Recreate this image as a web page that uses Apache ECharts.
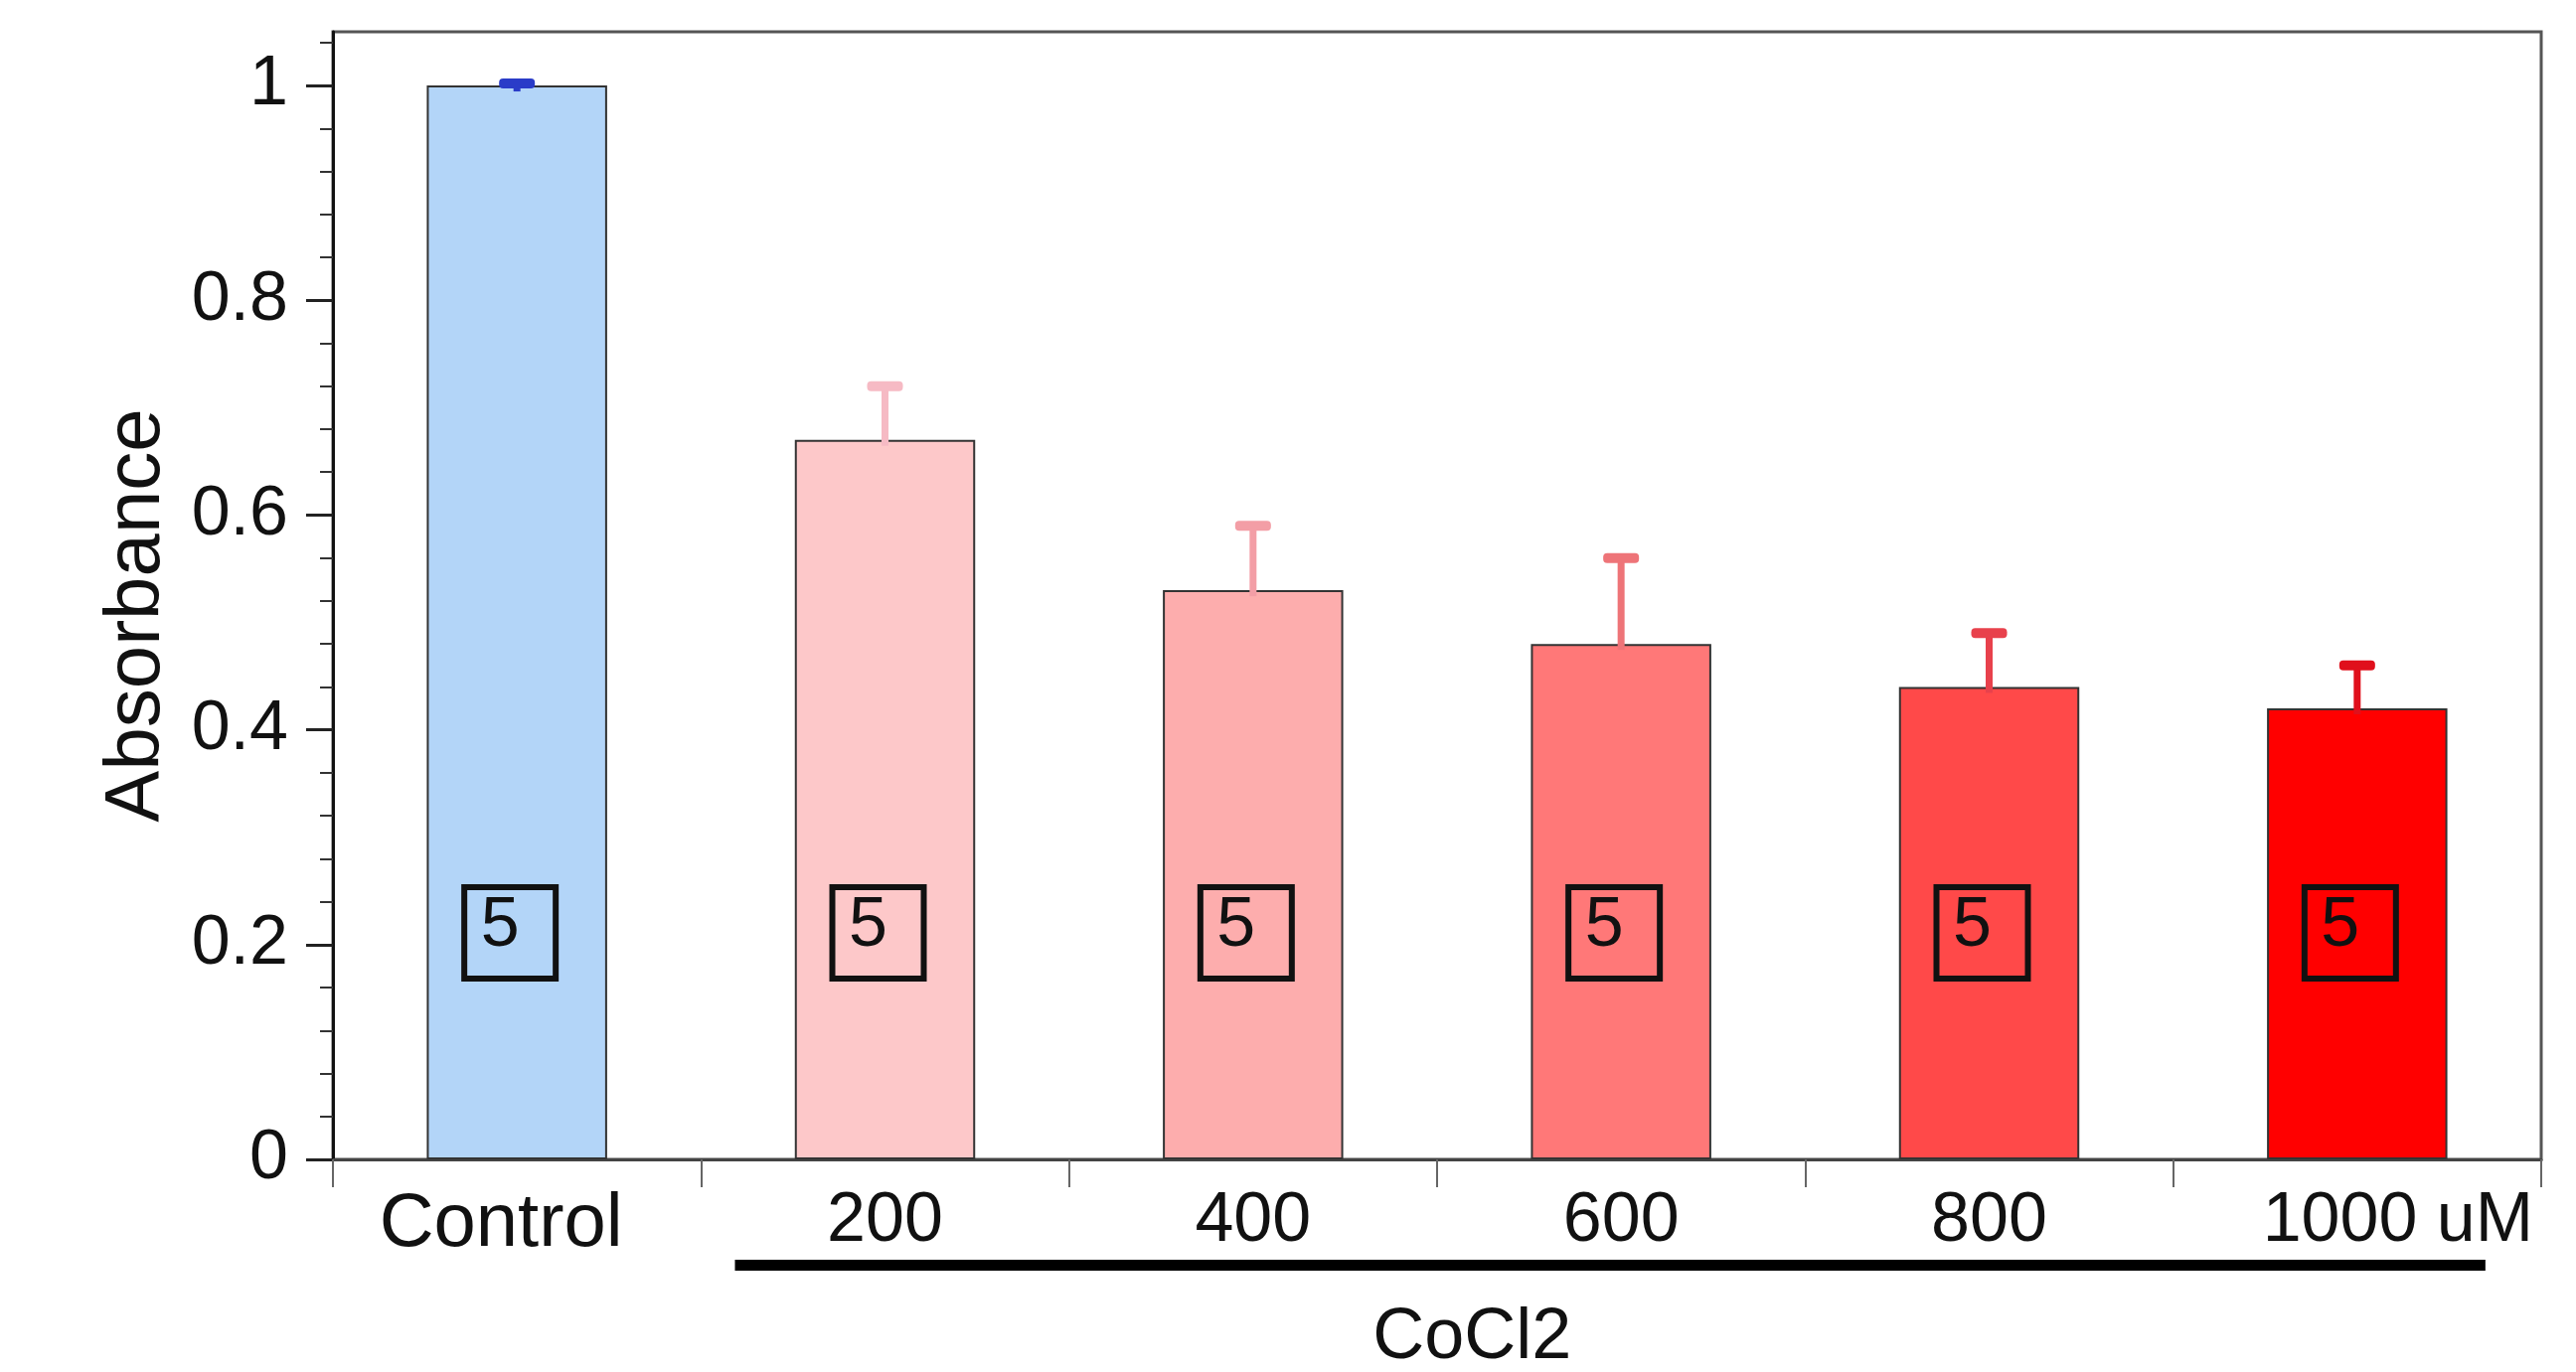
<!DOCTYPE html>
<html><head><meta charset="utf-8">
<script src="https://cdn.jsdelivr.net/npm/echarts@6/dist/echarts.min.js"></script>
<style>html,body{margin:0;padding:0;background:#fff}#c{width:2592px;height:1381px}</style>
</head><body><div id="c"></div>
<script>
// ---- data ----
const categories = ['Control', '200', '400', '600', '800', '1000 uM'];
const absorbance = [1.00, 0.67, 0.53, 0.48, 0.44, 0.42];
const errorUp    = [0.002, 0.05, 0.06, 0.08, 0.05, 0.04];
const nPerGroup  = [5, 5, 5, 5, 5, 5];
const yTickValues = [0, 0.2, 0.4, 0.6, 0.8, 1];
const groupLabel = 'CoCl2';
const yTitle = 'Absorbance';

// ---- styles ----
const barColors = ['#b3d5f8', '#fdc8c9', '#fdadad', '#ff7878', '#ff4949', '#ff0000'];
const errColors = ['#2a3cc8', '#f6bac4', '#f39ea6', '#ee7478', '#e8414c', '#e0101c'];
const FONT = '"Liberation Sans", Arial, sans-serif';

const chart = echarts.init(document.getElementById('c'), null, {renderer: 'canvas'});

const option = {
  backgroundColor: '#ffffff',
  animation: false,
  grid: {left: 335, top: 32, right: 35, bottom: 214, show: true,
         borderColor: '#555', borderWidth: 3, backgroundColor: 'transparent'},
  xAxis: {
    type: 'category', data: categories, boundaryGap: true,
    axisLine: {lineStyle: {color: '#444', width: 3}},
    axisTick: {show: true, interval: 0, length: 28, lineStyle: {color: '#666', width: 2}},
    axisLabel: {
      interval: 0, fontSize: 70, color: '#111', fontFamily: FONT, margin: 28,
      formatter: v => v === '1000 uM' ? '{r|' + v + '}' : v === 'Control' ? '{l|' + v + '}' : v,
      rich: {
        r: {fontSize: 70, color: '#111', fontFamily: FONT, padding: [0, 0, 0, 82]},
        l: {fontSize: 76, color: '#111', fontFamily: FONT, padding: [0, 32, 0, 0]}
      }
    }
  },
  yAxis: {
    type: 'value', min: 0, max: 1.05, interval: 0.2,
    name: yTitle, nameLocation: 'middle', nameGap: 158,
    nameTextStyle: {fontSize: 78, color: '#111', fontFamily: FONT, padding: [0, 40, 0, 0]},
    axisLine: {show: true, lineStyle: {color: '#111', width: 3}},
    axisTick: {show: true, length: 27, customValues: yTickValues, lineStyle: {color: '#222', width: 3}},
    minorTick: {show: true, splitNumber: 5, length: 13, lineStyle: {color: '#333', width: 2}},
    axisLabel: {customValues: yTickValues, fontSize: 70, color: '#111', fontFamily: FONT, margin: 45,
                formatter: v => (v === 0 ? '0' : v === 1 ? '1' : v.toFixed(1))},
    splitLine: {show: false}
  },
  series: [
    {
      type: 'bar', barWidth: '49%',
      data: absorbance.map((v, i) => ({value: v, itemStyle: {color: barColors[i]}})),
      itemStyle: {borderColor: '#333', borderWidth: 2},
      z: 2
    },
    {
      type: 'custom', z: 3,
      data: absorbance.map((v, i) => [i, v, errorUp[i]]),
      renderItem: (params, api) => {
        const i = api.value(0), v = api.value(1), e = api.value(2);
        const base = api.coord([i, v]);
        const top = api.coord([i, v + e]);
        const c = errColors[params.dataIndex];
        return {type: 'group', children: [
          {type: 'line', shape: {x1: base[0], y1: base[1] + 6, x2: top[0], y2: top[1]},
           style: {stroke: c, lineWidth: 7}},
          {type: 'rect', shape: {x: top[0] - 18, y: top[1] - 5, width: 36, height: 10, r: 4},
           style: {fill: c}}
        ]};
      }
    },
    {
      type: 'custom', z: 4,
      data: nPerGroup.map((n, i) => [i, n]),
      renderItem: (params, api) => {
        const p = api.coord([api.value(0), 0]);
        const cx = p[0] - 7, cy = p[1] - 228;
        return {type: 'group', children: [
          {type: 'rect', shape: {x: cx - 46, y: cy - 46, width: 92, height: 92},
           style: {fill: 'none', stroke: '#111', lineWidth: 6}},
          {type: 'text', x: cx - 10, y: cy - 6,
           style: {text: String(api.value(1)), font: '70px ' + FONT, fill: '#111',
                   align: 'center', verticalAlign: 'middle'}}
        ]};
      }
    }
  ]
};
chart.setOption(option);

function addGroupBracket() {
  const x1 = chart.convertToPixel({xAxisIndex: 0}, 1) - 151;
  const x2 = chart.convertToPixel({xAxisIndex: 0}, 5) + 129;
  const xText = chart.convertToPixel({xAxisIndex: 0}, 3) - 150;
  chart.setOption({
    graphic: [
      {type: 'rect', shape: {x: x1, y: 1268, width: x2 - x1, height: 11}, style: {fill: '#000'}},
      {type: 'text', x: xText, y: 1347,
       style: {text: groupLabel, font: '72px ' + FONT, fill: '#111', align: 'center', verticalAlign: 'middle'}}
    ]
  });
}
addGroupBracket();
</script>
</body></html>
